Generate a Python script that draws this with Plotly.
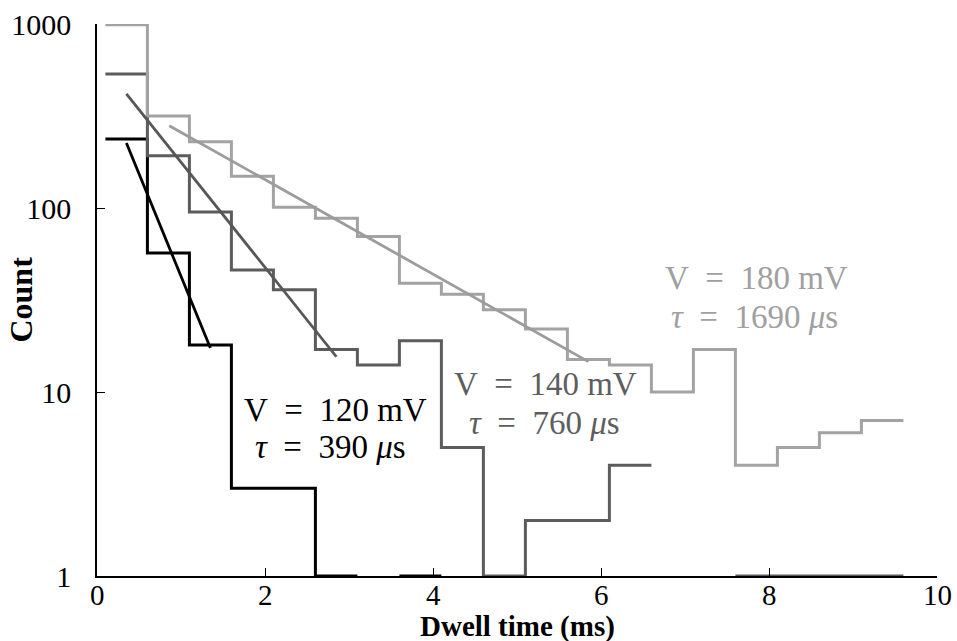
import math
import plotly.graph_objects as go

# Histogram bin edges (ms): 0.5 ms bins starting at 0.1 ms
bin_edges = [0.1, 0.6, 1.1, 1.6, 2.1, 2.6, 3.1, 3.6, 4.1, 4.6, 5.1,
             5.6, 6.1, 6.6, 7.1, 7.6, 8.1, 8.6, 9.1, 9.6]

# Dwell-time counts per bin (0 = empty bin, not drawn on the log axis)
counts_120mV = [237, 57, 18, 3, 3, 1, 0, 1]
counts_140mV = [535, 192, 95, 46, 36, 17, 14, 19, 5, 1, 2, 2, 4, 0, 0, 1, 1, 1, 1]
counts_180mV = [990, 316, 229, 149, 101, 88, 70, 39, 34, 28, 22, 15, 14, 10, 17, 4, 5, 6, 7]

# Exponential fits: time constant (ms), amplitude at t = 0, fitted range (ms)
fit_tau_ms = [0.39, 0.76, 1.69]
fit_amplitude = [553, 661, 466]
fit_t_start = [0.35, 0.35, 0.86]
fit_t_end = [1.35, 2.85, 5.85]

# Axis ticks
x_ticks = [0, 2, 4, 6, 8, 10]
y_ticks = [1, 10, 100, 1000]

series_colors = ["#000000", "#5c5c5c", "#a3a3a3"]
fit_colors = ["#000000", "#575757", "#9c9c9c"]
label_colors = ["#000000", "#5e5e5e", "#a0a0a0"]

voltages = ["120", "140", "180"]
tau_us = ["390", "760", "1690"]
label_pos_v = [(2.845, 0.902), (5.345, 1.043), (7.857, 1.620)]
label_pos_tau = [(2.774, 0.701), (5.333, 0.832), (7.830, 1.408)]

SERIF = "Liberation Serif"


def step_xy(edges, counts):
    xs, ys = [], []
    for i, c in enumerate(counts):
        if c <= 0:
            xs.append(None)
            ys.append(None)
            continue
        xs += [edges[i], edges[i + 1]]
        ys += [c, c]
    return xs, ys


fig = go.Figure()

all_counts = [counts_120mV, counts_140mV, counts_180mV]
for counts, color in zip(all_counts, series_colors):
    xs, ys = step_xy(bin_edges, counts)
    fig.add_trace(go.Scatter(x=xs, y=ys, mode="lines",
                             line=dict(color=color, width=3),
                             connectgaps=False, hoverinfo="skip"))

for tau, amp, t0, t1, color in zip(fit_tau_ms, fit_amplitude, fit_t_start,
                                   fit_t_end, fit_colors):
    ts = [t0, t1]
    ys = [amp * math.exp(-t / tau) for t in ts]
    fig.add_trace(go.Scatter(x=ts, y=ys, mode="lines",
                             line=dict(color=color, width=2.8),
                             hoverinfo="skip"))

for v, tau, (vx, vy), (tx, ty), color in zip(voltages, tau_us, label_pos_v,
                                             label_pos_tau, label_colors):
    fig.add_annotation(x=vx, y=vy, xref="x", yref="y", showarrow=False,
                       text=f"V\u2002=\u2002{v}\u00a0mV",
                       font=dict(family=SERIF, size=33, color=color))
    fig.add_annotation(x=tx, y=ty, xref="x", yref="y", showarrow=False,
                       text=f"<i>τ</i>\u2002=\u2002{tau}\u00a0<i>μ</i>s",
                       font=dict(family=SERIF, size=33, color=color))

# x tick labels, set just under the axis line
for xv in x_ticks:
    fig.add_annotation(x=xv, y=-0.034, xref="x", yref="paper",
                       xanchor="center", yanchor="middle", showarrow=False,
                       text=str(xv),
                       font=dict(family=SERIF, size=29, color="black"))

# Axis titles
fig.add_annotation(x=0.5, y=-0.091, xref="paper", yref="paper",
                   xanchor="center", yanchor="middle", showarrow=False,
                   text="<b>Dwell time (ms)</b>",
                   font=dict(family=SERIF, size=29, color="black"))
fig.add_annotation(x=-0.091, y=0.5, xref="paper", yref="paper",
                   xanchor="center", yanchor="middle", showarrow=False,
                   textangle=-90, text="<b>Count</b>",
                   font=dict(family=SERIF, size=32, color="black"))

fig.update_layout(
    width=957, height=641,
    margin=dict(l=97, r=20, t=24, b=65, autoexpand=False),
    paper_bgcolor="white", plot_bgcolor="white",
    showlegend=False,
    font=dict(family=SERIF, size=30, color="black"),
)

fig.update_xaxes(
    range=[0, 10], tickvals=x_ticks, showticklabels=False,
    showgrid=False, zeroline=False, automargin=False,
    showline=True, linecolor="black", linewidth=1.5,
    ticks="inside", ticklen=8, tickcolor="black", tickwidth=1,
)
fig.update_yaxes(
    type="log", range=[0, 3], tickvals=y_ticks,
    ticktext=[str(v) for v in y_ticks],
    showgrid=False, zeroline=False, automargin=False,
    showline=True, linecolor="black", linewidth=1.5,
    ticks="inside", ticklen=8, tickcolor="black", tickwidth=1,
    tickfont=dict(family=SERIF, size=30),
    ticklabelstandoff=18,
)

fig.write_html("out.html")
